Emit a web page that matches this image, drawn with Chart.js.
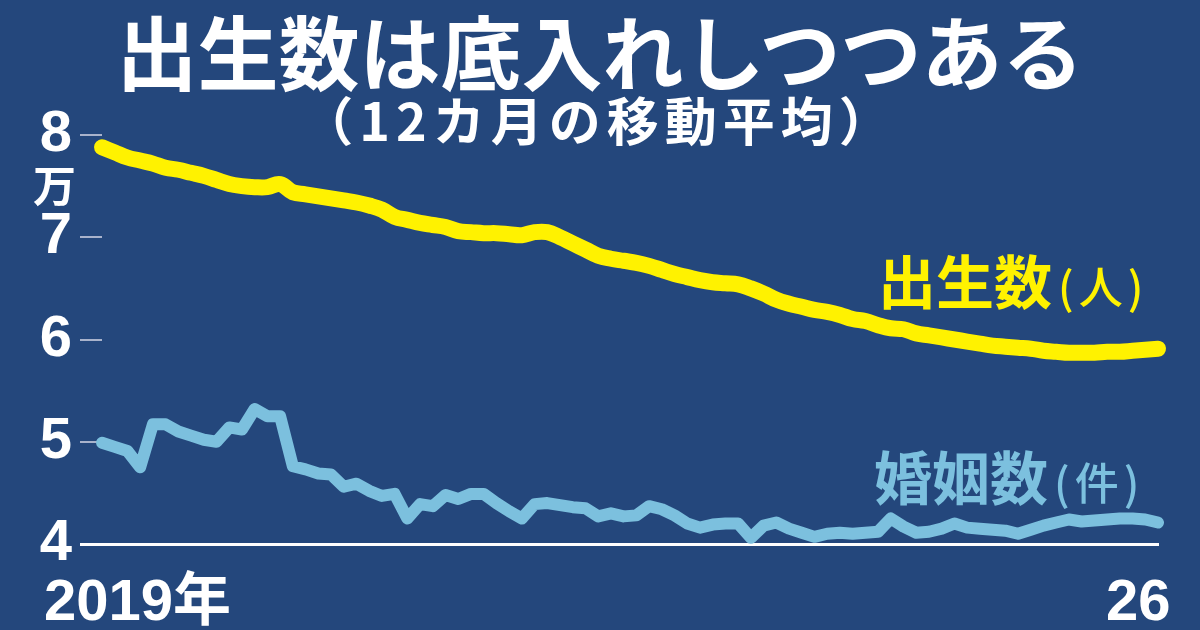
<!DOCTYPE html>
<html>
<head>
<meta charset="utf-8">
<script src="https://cdn.jsdelivr.net/npm/chart.js@4/dist/chart.umd.min.js"></script>
<style>
  body { margin: 0; background: #24477c; }
  #wrap { position: relative; width: 1200px; height: 630px; overflow: hidden; background: #24477c;
          font-family: "Noto Sans CJK JP", sans-serif; }
  canvas { position: absolute; left: 0; top: 0; }
  .t { position: absolute; white-space: nowrap; line-height: 1; font-weight: 700; }
  .num { font-family: "Liberation Sans", "Noto Sans CJK JP", sans-serif; }
  .unit { font-size: 44px; font-weight: 500; letter-spacing: 5px; margin-left: 6px; }
</style>
</head>
<body>
<div id="wrap">
  <canvas id="chart" width="1200" height="630"></canvas>
  <div class="t" id="title" style="left:0;width:1200px;text-align:center;top:8px;font-size:81px;color:#fff;">出生数は底入れしつつある</div>
  <div class="t" id="sub" style="left:0;width:1198px;text-align:center;top:93px;font-size:52px;letter-spacing:6px;color:#fff;">（12カ月の移動平均）</div>
  <div class="t" style="left:33px;top:162px;font-size:43px;color:#fff;">万</div>
  <div class="t" style="left:878px;top:250px;font-size:58px;color:#fff200;">出生数<span class="unit">(人)</span></div>
  <div class="t" style="left:874px;top:446px;font-size:58px;color:#7cc0de;">婚姻数<span class="unit">(件)</span></div>
  <div class="t num" style="left:44px;top:571px;font-size:58px;color:#fff;">2019年</div>
  <div class="t num" style="left:1106px;top:571px;font-size:58px;color:#fff;">26</div>
</div>
<script>
// 月次ラベル（2019年1月〜2025年12月）
const months = [];
for (let y = 2019; y <= 2025; y++) {
  for (let m = 1; m <= 12; m++) months.push(y + '年' + m + '月');
}

// 出生数（人、12カ月移動平均）
const births = [
  78800, 78300, 77800, 77500, 77200, 76800, 76600, 76300, 76000, 75600, 75200, 75000,
  74900, 74900, 75200, 74400, 74200, 74000, 73800, 73600, 73400, 73100, 72700, 72000,
  71700, 71400, 71200, 71000, 70600, 70500, 70400, 70400, 70300, 70200, 70500, 70500,
  70000, 69400, 68800, 68200, 67900, 67700, 67500, 67200, 66800, 66400, 66100, 65800,
  65600, 65500, 65400, 65000, 64500, 63900, 63500, 63200, 62900, 62700, 62400, 62000,
  61800, 61400, 61100, 61000, 60600, 60400, 60200, 60000, 59800, 59600, 59400, 59300,
  59200, 59100, 58900, 58800, 58700, 58700, 58700, 58800, 58800, 58900, 59000, 59100
];

// 婚姻数（件、12カ月移動平均）
const marriages = [
  49900, 49500, 49100, 47500, 51700, 51700, 51000, 50600, 50200, 50000, 51400, 51200,
  53200, 52500, 52500, 47600, 47300, 46900, 46800, 45600, 45900, 45200, 44700, 44900,
  42500, 43900, 43700, 44800, 44400, 44900, 44900, 44000, 43200, 42500, 43900, 44000,
  43800, 43600, 43500, 42700, 43000, 42700, 42800, 43700, 43400, 42800, 42000, 41600,
  41900, 42000, 42000, 40600, 41800, 42100, 41500, 41100, 40700, 41000, 41100, 41000,
  41100, 41200, 42500, 41700, 41100, 41200, 41500, 42000, 41600, 41500, 41400, 41300,
  41000, 41400, 41800, 42100, 42400, 42200, 42300, 42400, 42500, 42500, 42400, 42100
];

const Y_MIN = 40000;
const Y_MAX = 80000;
const Y_STEP = 10000;

new Chart(document.getElementById('chart').getContext('2d'), {
  type: 'line',
  data: {
    labels: months,
    datasets: [
      {
        label: '出生数',
        data: births,
        borderColor: '#fff200',
        borderWidth: 16,
        tension: 0.4,
        pointRadius: 0,
        borderCapStyle: 'round',
        borderJoinStyle: 'round',
        clip: false
      },
      {
        label: '婚姻数',
        data: marriages,
        borderColor: '#7cc0de',
        borderWidth: 12,
        tension: 0,
        pointRadius: 0,
        borderCapStyle: 'round',
        borderJoinStyle: 'round',
        clip: false
      }
    ]
  },
  options: {
    responsive: false,
    animation: false,
    layout: { padding: { top: 135, right: 42, bottom: 86, left: 0 } },
    plugins: { legend: { display: false }, tooltip: { enabled: false } },
    scales: {
      x: {
        offset: false,
        afterFit: (s) => { s.height = 0; },
        ticks: { display: false },
        grid: { display: false },
        border: { display: true, color: '#ffffff', width: 3 }
      },
      y: {
        min: Y_MIN,
        max: Y_MAX,
        afterFit: (s) => { s.width = 102; },
        border: { display: false },
        grid: {
          drawOnChartArea: false,
          tickLength: 22,
          color: (c) => (c.tick && c.tick.value === Y_MIN) ? '#ffffff' : '#a9b3cc',
          lineWidth: (c) => (c.tick && c.tick.value === Y_MIN) ? 3 : 2
        },
        ticks: {
          stepSize: Y_STEP,
          padding: 8,
          color: '#ffffff',
          font: { family: '"Liberation Sans"', size: 58, weight: 'bold' },
          callback: (v) => v / 10000
        }
      }
    }
  }
});
</script>
</body>
</html>
